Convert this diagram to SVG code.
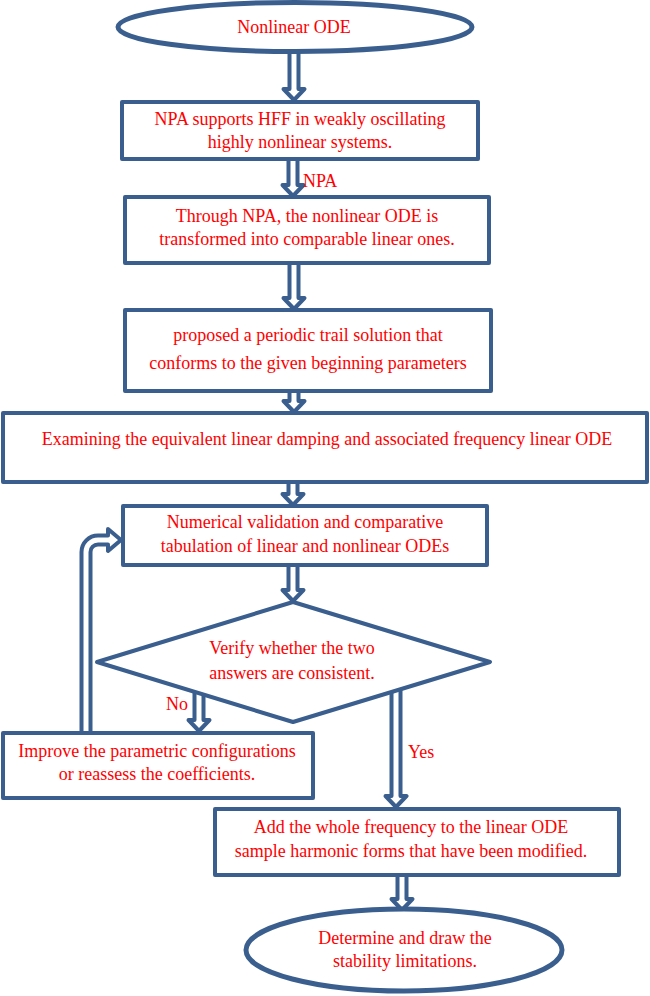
<svg xmlns="http://www.w3.org/2000/svg" width="650" height="996" viewBox="0 0 650 996">
<style>
.n{fill:#fff;stroke:#3A5F8E;stroke-width:4;stroke-linejoin:round}
.e{fill:#fff;stroke:#3A5F8E;stroke-width:5}
.a{fill:#fff;stroke:#3A5F8E;stroke-width:4;stroke-linejoin:round}
text{font-family:"Liberation Serif","Times New Roman",serif;font-size:18px;fill:#FF0000}
.c{text-anchor:middle}
</style>
<rect width="650" height="996" fill="#fff"/>
<g id="connectors">
<path class="a" d="M289.5,48 V89 H283.5 L294,100 L304.5,89 H298.5 V48 Z"/>
<path class="a" d="M288.5,156 V185 H282.5 L293,196 L303.5,185 H297.5 V156 Z"/>
<path class="a" d="M289.5,259 V298 H283.5 L294,309 L304.5,298 H298.5 V259 Z"/>
<path class="a" d="M289.5,387 V401 H283.5 L294,412 L304.5,401 H298.5 V387 Z"/>
<path class="a" d="M288.5,478 V494 H282.5 L293,505 L303.5,494 H297.5 V478 Z"/>
<path class="a" d="M288.5,561 V590 H282.5 L293,601 L303.5,590 H297.5 V561 Z"/>
<path class="a" d="M194.5,688 V720 H188.5 L199,731 L209.5,720 H203.5 V688 Z"/>
<path class="a" d="M391.5,686 V796 H385.5 L396,807 L406.5,796 H400.5 V686 Z"/>
<path class="a" d="M397.5,871 V899 H391.5 L402,910 L412.5,899 H406.5 V871 Z"/>
<path class="a" d="M81.5,737 V552 A16.5,16.5 0 0 1 98,535.5 H108 V529 L121,540 L108,551 V544.5 H98 A7.5,7.5 0 0 0 90.5,552 V737 Z"/>
<text x="303" y="187">NPA</text>
<text x="166" y="710">No</text>
<text x="408" y="758">Yes</text>
</g>
<g id="start">
<ellipse class="e" cx="295" cy="27" rx="177" ry="24.5"/>
<text class="c" x="294" y="33">Nonlinear ODE</text>
</g>
<g id="npa-supports">
<rect class="n" x="122" y="102" width="356" height="57"/>
<text class="c" x="300" y="125">NPA supports HFF in weakly oscillating</text>
<text class="c" x="300" y="148">highly nonlinear systems.</text>
</g>
<g id="through-npa">
<rect class="n" x="125" y="197" width="364" height="66"/>
<text class="c" x="307" y="222">Through NPA, the nonlinear ODE is</text>
<text class="c" x="307" y="245">transformed into comparable linear ones.</text>
</g>
<g id="proposed">
<rect class="n" x="125" y="310" width="366" height="81"/>
<text class="c" x="308" y="341">proposed a periodic trail solution that</text>
<text class="c" x="308" y="369">conforms to the given beginning parameters</text>
</g>
<g id="examining">
<rect class="n" x="3" y="413" width="644" height="69"/>
<text class="c" x="327" y="445">Examining the equivalent linear damping and associated frequency linear ODE</text>
</g>
<g id="numerical">
<rect class="n" x="123" y="506" width="364" height="59"/>
<text class="c" x="305" y="528">Numerical validation and comparative</text>
<text class="c" x="305" y="552">tabulation of linear and nonlinear ODEs</text>
</g>
<g id="verify">
<polygon class="n" points="293,602 490,662 293,722 97,662"/>
<text class="c" x="292" y="654">Verify whether the two</text>
<text class="c" x="292" y="679">answers are consistent.</text>
</g>
<g id="improve">
<rect class="n" x="3" y="733" width="310" height="65"/>
<text class="c" x="157" y="757">Improve the parametric configurations</text>
<text class="c" x="157" y="780">or reassess the coefficients.</text>
</g>
<g id="add-frequency">
<rect class="n" x="215" y="809" width="404" height="66"/>
<text class="c" x="411" y="833">Add the whole frequency to the linear ODE</text>
<text class="c" x="411" y="857">sample harmonic forms that have been modified.</text>
</g>
<g id="end">
<ellipse class="e" cx="404" cy="950" rx="158" ry="41"/>
<text class="c" x="405" y="944">Determine and draw the</text>
<text class="c" x="405" y="967">stability limitations.</text>
</g>
</svg>
